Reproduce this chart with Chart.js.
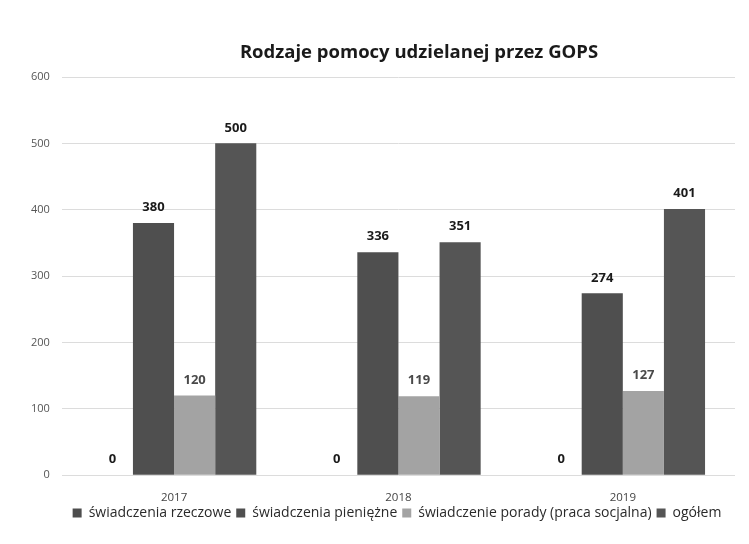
<!DOCTYPE html>
<html>
<head>
<meta charset="utf-8">
<script src="https://cdn.jsdelivr.net/npm/chart.js@4.4.0/dist/chart.umd.min.js"></script>
<style>
    body { margin: 0; background: #fff; }
    #wrap { position: relative; width: 749px; height: 544px; }
    #tytul {
        position: absolute; left: 0; top: 38px; width: 838px;
        text-align: center; font: bold 18.5px "Open Sans", sans-serif; color: #1a1a1a;
    }
</style>
</head>
<body>
<div id="wrap">
    <div id="tytul">Rodzaje pomocy udzielanej przez GOPS</div>
    <canvas id="pomocChart" width="749" height="544"></canvas>
</div>
<script>
// dane
const lata = ['2017', '2018', '2019'];
const rzeczowe = [0, 0, 0];
const pieniezne = [380, 336, 274];
const porady = [120, 119, 127];
const ogolem = [500, 351, 401];
const osY = [0, 100, 200, 300, 400, 500, 600];

// etykiety wartości nad słupkami
const etykietyPlugin = {
    id: 'etykiety',
    afterDatasetsDraw(chart) {
        const ctx = chart.ctx;
        ctx.save();
        ctx.font = 'bold 13px "Open Sans", sans-serif';
        ctx.textAlign = 'center';
        ctx.textBaseline = 'bottom';
        chart.data.datasets.forEach((ds, i) => {
            const meta = chart.getDatasetMeta(i);
            meta.data.forEach((bar, j) => {
                ctx.fillStyle = i === 2 ? '#4a4a4a' : '#1a1a1a';
                ctx.fillText(String(ds.data[j]), bar.x, bar.y - 9);
            });
        });
        ctx.restore();
    }
};

// legenda bliżej etykiet osi X i lekko w prawo
const legendaPlugin = {
    id: 'legendaWyzej',
    afterLayout(chart) {
        const l = chart.legend;
        if (l) {
            l.top -= 12; l.bottom -= 12;
            l.left += 20; l.right += 20;
        }
    }
};

new Chart(document.getElementById('pomocChart'), {
    type: 'bar',
    data: {
        labels: lata,
        datasets: [
            { label: 'świadczenia rzeczowe', data: rzeczowe, backgroundColor: '#4d4d4d' },
            { label: 'świadczenia pieniężne', data: pieniezne, backgroundColor: '#4f4f4f' },
            { label: 'świadczenie porady (praca socjalna)', data: porady, backgroundColor: '#a3a3a3' },
            { label: 'ogółem', data: ogolem, backgroundColor: '#555555' }
        ]
    },
    options: {
        responsive: false,
        animation: false,
        layout: { padding: { left: 19, right: 14, top: 77, bottom: 2 } },
        datasets: {
            bar: { barPercentage: 1.0, categoryPercentage: 0.733 }
        },
        plugins: {
            legend: {
                position: 'bottom',
                maxHeight: 30,
                labels: {
                    color: '#2a2a2a',
                    font: { family: 'Open Sans', size: 14 },
                    boxWidth: 9,
                    boxHeight: 9,
                    padding: 5
                }
            },
            tooltip: { enabled: false }
        },
        scales: {
            y: {
                min: 0,
                max: 600,
                afterBuildTicks: function(axis) {
                    axis.ticks = osY.map(v => ({ value: v }));
                },
                grid: { color: '#dcdcdc', drawTicks: false },
                border: { display: false },
                ticks: {
                    color: '#555',
                    padding: 12,
                    font: { family: 'Open Sans', size: 11 }
                }
            },
            x: {
                grid: { display: false },
                border: { display: false },
                ticks: {
                    color: '#444',
                    padding: 8,
                    font: { family: 'Open Sans', size: 11.5 }
                }
            }
        }
    },
    plugins: [etykietyPlugin, legendaPlugin]
});
</script>
</body>
</html>
